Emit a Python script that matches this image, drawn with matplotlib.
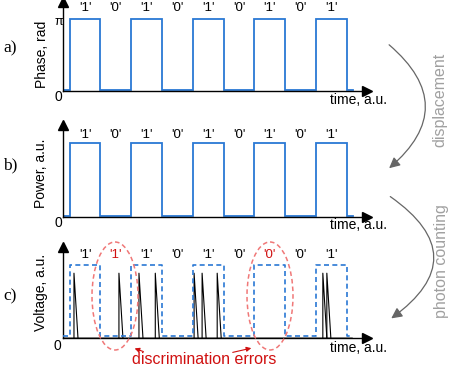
import matplotlib
matplotlib.use("Agg")
import matplotlib.pyplot as plt
from matplotlib.patches import Ellipse, FancyArrowPatch
import numpy as np

plt.rcParams['font.family'] = ['Liberation Sans', 'DejaVu Sans']

# ---------------- data ----------------
bits = [1, 0, 1, 0, 1, 0, 1, 0, 1]
labels_ab = ["'1'", "'0'", "'1'", "'0'", "'1'", "'0'", "'1'", "'0'", "'1'"]
labels_c = ["'1'", "'1'", "'1'", "'0'", "'1'", "'0'", "'0'", "'0'", "'1'"]
error_bits = [1, 6]
spike_times = [0.34, 1.80, 2.45, 2.98, 4.24, 4.50, 4.99, 8.42, 8.55]
spike_heights = [0.9, 0.9, 0.9, 0.9, 0.9, 0.9, 0.9, 0.9, 0.9]
bit_start = 0.2
low_level = 0.015

W, H = 452, 366
fig = plt.figure(figsize=(W / 100, H / 100), dpi=100)

blue = '#2a78d4'
red = '#d01010'

def make_ax(y_base, y_top, x_left=63.5, x_right=367):
    ax = fig.add_axes([x_left / W, (H - y_base) / H, (x_right - x_left) / W, (y_base - y_top) / H])
    for s in ['top', 'right']:
        ax.spines[s].set_visible(False)
    for s in ['left', 'bottom']:
        ax.spines[s].set_color('black')
        ax.spines[s].set_linewidth(1.0)
    ax.set_xticks([])
    ax.set_yticks([])
    ax.patch.set_alpha(0)
    ax.plot(1, 0, '>', color='black', markersize=7, transform=ax.transAxes, clip_on=False)
    ax.plot(0, 1, '^', color='black', markersize=7, transform=ax.transAxes, clip_on=False)
    return ax

def signal(bits):
    xs = [0, bit_start]
    ys = [low_level, low_level]
    for i, b in enumerate(bits):
        lvl = 1.0 if b else low_level
        xs += [bit_start + i, bit_start + i + 1]
        ys += [lvl, lvl]
    xs += [bit_start + len(bits), bit_start + len(bits) + 0.2]
    ys += [low_level, low_level]
    return xs, ys

xmax = (367 - 63.5) / 30.8

# panel a
axa = make_ax(91, 2)
axa.set_xlim(0, xmax)
axa.set_ylim(0, 89 / 72)
xs, ys = signal(bits)
axa.plot(xs, ys, color=blue, lw=1.3, solid_joinstyle='miter')
for i, lab in enumerate(labels_ab):
    axa.text(bit_start + i + 0.5, 1.15, lab, ha='center', va='center', fontsize=9.5)

# panel b
axb = make_ax(217, 125)
axb.set_xlim(0, xmax)
axb.set_ylim(0, 92 / 74)
axb.plot(xs, ys, color=blue, lw=1.3, solid_joinstyle='miter')
for i, lab in enumerate(labels_ab):
    axb.text(bit_start + i + 0.5, 1.11, lab, ha='center', va='center', fontsize=9.5)

# panel c
axc = make_ax(338, 247)
axc.set_xlim(0, xmax)
axc.set_ylim(0, 91 / 72)
axc.plot([0, bit_start + len(bits) + 0.15], [0, 0], color='#777777', lw=1.8, zorder=1)
axc.plot(xs, [y + 0.01 for y in ys], color=blue, lw=1.2, ls=(0, (3, 2)), zorder=3)
for t, h in zip(spike_times, spike_heights):
    axc.plot([t, t, t + 0.13], [0, h, 0], color='black', lw=0.8, zorder=2)
for i, lab in enumerate(labels_c):
    axc.text(bit_start + i + 0.5, 1.15, lab, ha='center', va='center', fontsize=9.5,
             color=(red if i in error_bits else 'black'))

# overlay in pixel coordinates
ov = fig.add_axes([0, 0, 1, 1])
ov.set_xlim(0, W)
ov.set_ylim(H, 0)
ov.axis('off')
ov.patch.set_alpha(0)

serif = ['Liberation Serif', 'DejaVu Serif']
ov.text(10, 48, 'a)', fontsize=12.5, family=serif, ha='center', va='center')
ov.text(10, 165, 'b)', fontsize=12.5, family=serif, ha='center', va='center')
ov.text(10, 296, 'c)', fontsize=12.5, family=serif, ha='center', va='center')

ov.text(42, 54, 'Phase, rad', rotation=90, fontsize=10, ha='center', va='center')
ov.text(41, 173, 'Power, a.u.', rotation=90, fontsize=10, ha='center', va='center')
ov.text(41, 292, 'Voltage, a.u.', rotation=90, fontsize=10, ha='center', va='center')

ov.text(58.5, 22, 'π', fontsize=9, ha='center', va='center')
ov.text(58, 97, '0', fontsize=10, ha='center', va='center')
ov.text(58, 223, '0', fontsize=10, ha='center', va='center')
ov.text(57, 346, '0', fontsize=10, ha='center', va='center')

for y in [100, 225, 348]:
    ov.text(330, y, 'time, a.u.', fontsize=10, ha='left', va='center')

# ellipses
for cx in [115, 270]:
    ov.add_patch(Ellipse((cx, 296), 46, 108, fill=False, ec='#f07878', lw=1.1, ls=(0, (3, 2))))

ov.text(204, 359, 'discrimination errors', fontsize=11.5, color=red, ha='center', va='center')
ov.annotate('', xy=(132, 347.5), xytext=(146, 352.5),
            arrowprops=dict(arrowstyle='-|>', color=red, lw=0.8, mutation_scale=7))
ov.annotate('', xy=(254, 347.5), xytext=(230, 353),
            arrowprops=dict(arrowstyle='-|>', color=red, lw=0.8, mutation_scale=7))

# curved process arrows
arcgray = '#666666'
ov.add_patch(FancyArrowPatch((387, 43), (387, 170), connectionstyle='arc3,rad=-0.6',
                             arrowstyle='-|>', mutation_scale=16, color=arcgray, lw=0.9))
ov.add_patch(FancyArrowPatch((388, 195), (389, 320), connectionstyle='arc3,rad=-0.72',
                             arrowstyle='-|>', mutation_scale=16, color=arcgray, lw=0.9))
ov.text(440, 100, 'displacement', rotation=90, fontsize=11.5, color='#a0a0a0', ha='center', va='center')
ov.text(442, 261, 'photon counting', rotation=90, fontsize=11.5, color='#a0a0a0', ha='center', va='center')

fig.savefig('out.png', dpi=100)
